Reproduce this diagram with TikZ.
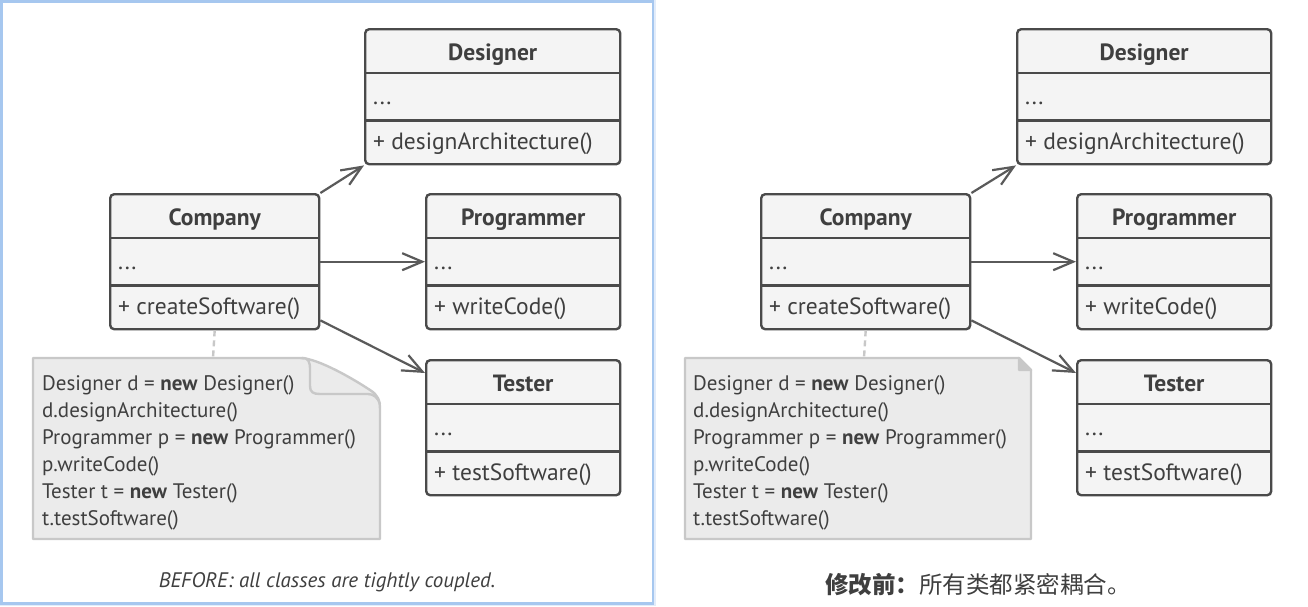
\documentclass[tikz,border=0pt]{standalone}
\usepackage{fontspec}
\setmainfont{PT Sans}
\newfontfamily\cjk{Noto Sans CJK SC}
\usetikzlibrary{arrows.meta}
\definecolor{boxline}{HTML}{4A4A4A}
\definecolor{boxfill}{HTML}{F4F4F4}
\definecolor{txt}{HTML}{3F3F3F}
\definecolor{arr}{HTML}{5A5A5A}
\definecolor{notefill}{HTML}{EBEBEB}
\definecolor{noteline}{HTML}{C8C8C8}
\definecolor{frameblue}{HTML}{A6C7EF}
\definecolor{frameglow}{HTML}{E2ECFA}
\tikzset{
  classbox/.style={draw=boxline, fill=boxfill, line width=2.4pt, rounded corners=4pt, inner sep=0pt},
  sepline/.style={draw=boxline, line width=2.4pt},
  ctitle/.style={font=\fontsize{23.5}{28}\selectfont\bfseries, text=txt, anchor=base, inner sep=0pt},
  cmember/.style={font=\fontsize{23.5}{28}\selectfont, text=txt, anchor=base west, inner sep=0pt},
  assoc/.style={draw=arr, line width=2.2pt, -{Straight Barb[length=20pt,width=17pt,line width=2.2pt]}},
  notelink/.style={draw=noteline, line width=2.4pt, dash pattern=on 6pt off 4pt},
  noteshape/.style={draw=noteline, fill=notefill, line width=2.4pt, line join=round},
  noteline/.style={font=\fontsize{21}{27}\selectfont, text=txt, anchor=base west, inner sep=0pt},
}
\newcommand{\umlbox}[7]{%
  \node[classbox, minimum width=#4pt, minimum height=135pt, anchor=north west] (#1) at (#2,#3) {};
  \draw[sepline] ([yshift=-45pt]#1.north west) -- ([yshift=-45pt]#1.north east);
  \draw[sepline] ([yshift=45pt]#1.south west) -- ([yshift=45pt]#1.south east);
  \node[ctitle] (#1-t) at ([yshift=-32pt]#1.north) {#5};
  \node[cmember] (#1-a) at ([xshift=9pt,yshift=-76pt]#1.north west) {#6};
  \node[cmember] (#1-m) at ([xshift=9pt,yshift=-121pt]#1.north west) {#7};
}
\newcommand{\notebody}[3]{%
  \node[noteline] (#1-1) at (#2,#3) {Designer d = \textbf{new} Designer()};
  \node[noteline] (#1-2) at (#2,#3+27) {d.designArchitecture()};
  \node[noteline] (#1-3) at (#2,#3+54) {Programmer p = \textbf{new} Programmer()};
  \node[noteline] (#1-4) at (#2,#3+81) {p.writeCode()};
  \node[noteline] (#1-5) at (#2,#3+108) {Tester t = \textbf{new} Tester()};
  \node[noteline] (#1-6) at (#2,#3+135) {t.testSoftware()};
}
\begin{document}
\begin{tikzpicture}[x=1pt,y=-1pt]
\useasboundingbox (0,0) rectangle (1308,606);
% left frame
\draw[frameglow, line width=6pt] (2,2) rectangle (653,603);
\draw[frameblue, line width=2.2pt] (1.5,1.5) rectangle (653,603.5);
\fill[white] (2.6,2.6) rectangle (651.9,602.4);

% ---------------- left panel ----------------
\umlbox{designerL}{364}{28}{255}{Designer}{...}{+ designArchitecture()}
\umlbox{companyL}{109}{193}{209}{Company}{...}{+ createSoftware()}
\umlbox{programmerL}{425}{193}{194}{Programmer}{...}{+ writeCode()}
\umlbox{testerL}{425}{359}{194}{Tester}{...}{+ testSoftware()}

\draw[assoc] (companyL.north east) -- (designerL.south west);
\draw[assoc] (companyL.east) -- (programmerL.west);
\draw[assoc] ([yshift=10pt]companyL.south east) -- ([yshift=-14pt]testerL.north west);

% note with curled corner
\coordinate (noteLtop) at (213,358);
\draw[notelink] (companyL.south) -- (noteLtop);
\path[noteshape] (33,358) -- (300,358) .. controls (318,358) and (355,380) .. (370,390)
  .. controls (378,395) and (380,400) .. (380,410) -- (380,539) -- (33,539) -- cycle;
\path[noteshape] (302,358) .. controls (309,358) and (310,362) .. (310,370) -- (310,386)
  .. controls (310,392) and (313,394) .. (320,394) -- (368,394) .. controls (374,394) and (378,398) .. (380,404);
\notebody{noteL}{42}{390}

\node[font=\fontsize{21}{26}\selectfont\itshape, text=txt, anchor=base] (capL) at (327,587) {BEFORE: all classes are tightly coupled.};

% ---------------- right panel ----------------
\umlbox{designerR}{1016}{28}{254}{Designer}{...}{+ designArchitecture()}
\umlbox{companyR}{760}{193}{209}{Company}{...}{+ createSoftware()}
\umlbox{programmerR}{1076}{193}{194}{Programmer}{...}{+ writeCode()}
\umlbox{testerR}{1076}{359}{194}{Tester}{...}{+ testSoftware()}

\draw[assoc] (companyR.north east) -- (designerR.south west);
\draw[assoc] (companyR.east) -- (programmerR.west);
\draw[assoc] ([yshift=10pt]companyR.south east) -- ([yshift=-14pt]testerR.north west);

\coordinate (noteRtop) at (864,358);
\draw[notelink] (companyR.south) -- (noteRtop);
\path[noteshape] (685,358) -- (1019,358) -- (1031,370) -- (1031,539) -- (685,539) -- cycle;
\path[noteshape, fill=noteline] (1019,358) -- (1019,370) -- (1031,370) -- cycle;
\notebody{noteR}{693}{390}

\node[font=\fontsize{23.5}{28}\selectfont\cjk, text=txt, anchor=base] (capR) at (978,593) {{\bfseries 修改前：}所有类都紧密耦合。};
\end{tikzpicture}
\end{document}
